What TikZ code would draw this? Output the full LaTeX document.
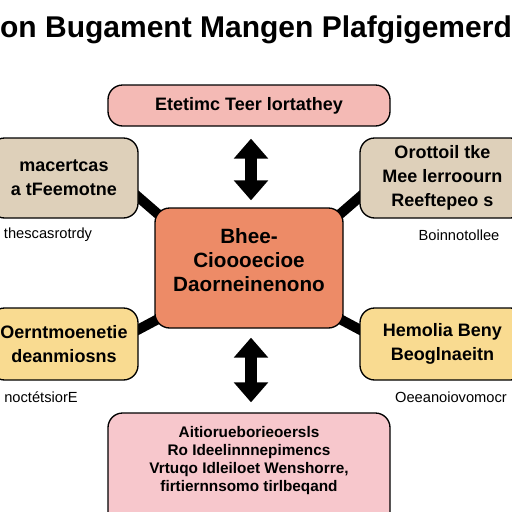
\documentclass[tikz,border=0pt]{standalone}
\usepackage{fontspec}
\setmainfont{Liberation Sans}
\usetikzlibrary{arrows.meta,backgrounds,calc}

\definecolor{toppink}{RGB}{244,186,181}
\definecolor{lowpink}{RGB}{247,199,204}
\definecolor{tanfill}{RGB}{222,208,186}
\definecolor{corefill}{RGB}{237,139,103}
\definecolor{sandfill}{RGB}{249,219,145}

\begin{document}
\begin{tikzpicture}[x=0.75pt,y=0.75pt,yscale=-1,xscale=1,
    box/.style={draw=black,line width=1pt,rounded corners=11pt,align=center,inner sep=0pt,
      font=\bfseries\fontsize{13.5}{18}\selectfont},
    note/.style={inner sep=0.75pt,font=\fontsize{11}{13}\selectfont},
    link/.style={line width=7.5pt},
    updown/.style={line width=9pt,{Triangle[width=25pt,length=15pt]}-{Triangle[width=25pt,length=15pt]}}]
        \useasboundingbox (0,0) rectangle (512,512);

        % Title
        \node[inner sep=0pt,font=\bfseries\fontsize{22.5}{26}\selectfont] (title) at (256,30) {on Bugament Mangen Plafgigemerd};

        % Boxes
        \node[box,fill=toppink,minimum width=211.5pt,minimum height=30.75pt,font=\bfseries\fontsize{13.5}{16}\selectfont] (top) at (249,105.5) {Etetimc Teer lortathey};
        \node[box,fill=corefill,minimum width=141pt,minimum height=90pt,font=\bfseries\fontsize{15.5}{18}\selectfont] (ctr) at (249,268) {Bhee-\\Cioooecioe\\Daorneinenono\\[-6pt]\mbox{}};
        \node[box,fill=tanfill,minimum width=111pt,minimum height=60pt] (ul) at (64,178) {macertcas\\a tFeemotne};
        \node[box,fill=tanfill,minimum width=123.75pt,minimum height=60pt] (ur) at (442.5,178) {Orottoil tke\\Mee lerroourn\\Reeftepeo s};
        \node[box,fill=sandfill,minimum width=111pt,minimum height=54pt] (ll) at (64,344) {Oerntmoenetie\\deanmiosns};
        \node[box,fill=sandfill,minimum width=123.75pt,minimum height=54pt] (lr) at (442.5,344) {Hemolia Beny\\Beoglnaeitn};
        \node[box,fill=lowpink,minimum width=211.5pt,minimum height=91.5pt] (bottom) at (249,474) {};
        \node[inner sep=0pt,align=center,font=\bfseries\fontsize{11.5}{13.5}\selectfont] (bottomtext) at (249,461) {Aitiorueborieoersls\\Ro Ideelinnnepimencs\\Vrtuqo Idleiloet Wenshorre,\\firtiernnsomo tirlbeqand};

        % Notes under the side boxes
        \node[note] (ulnote) at (48,235) {thescasrotrdy};
        \node[note] (urnote) at (459,235) {Boinnotollee};
        \node[note] (llnote) at (41,397) {noctétsiorE};
        \node[note] (lrnote) at (451,397) {Oeeanoiovomocr};

        % Links
        \begin{scope}[on background layer]
        \draw[link] ($(ul.east)+(-5,15)$) -- ($(ctr.north west)+(12,14)$);
        \draw[link] ($(ur.west)+(5,15)$) -- ($(ctr.north east)+(-12,14)$);
        \draw[link] ($(ll.east)+(-5,-12)$) -- ($(ctr.south west)+(12,-14)$);
        \draw[link] ($(lr.west)+(5,-12)$) -- ($(ctr.south east)+(-12,-14)$);
        \end{scope}

        % Double arrows
        \draw[updown] ($(top.south)+(2,12)$) -- ($(ctr.north)+(2,-7)$);
        \draw[updown] ($(ctr.south)+(2,9)$) -- ($(bottom.north)+(2,-10)$);

    \end{tikzpicture}
\end{document}
